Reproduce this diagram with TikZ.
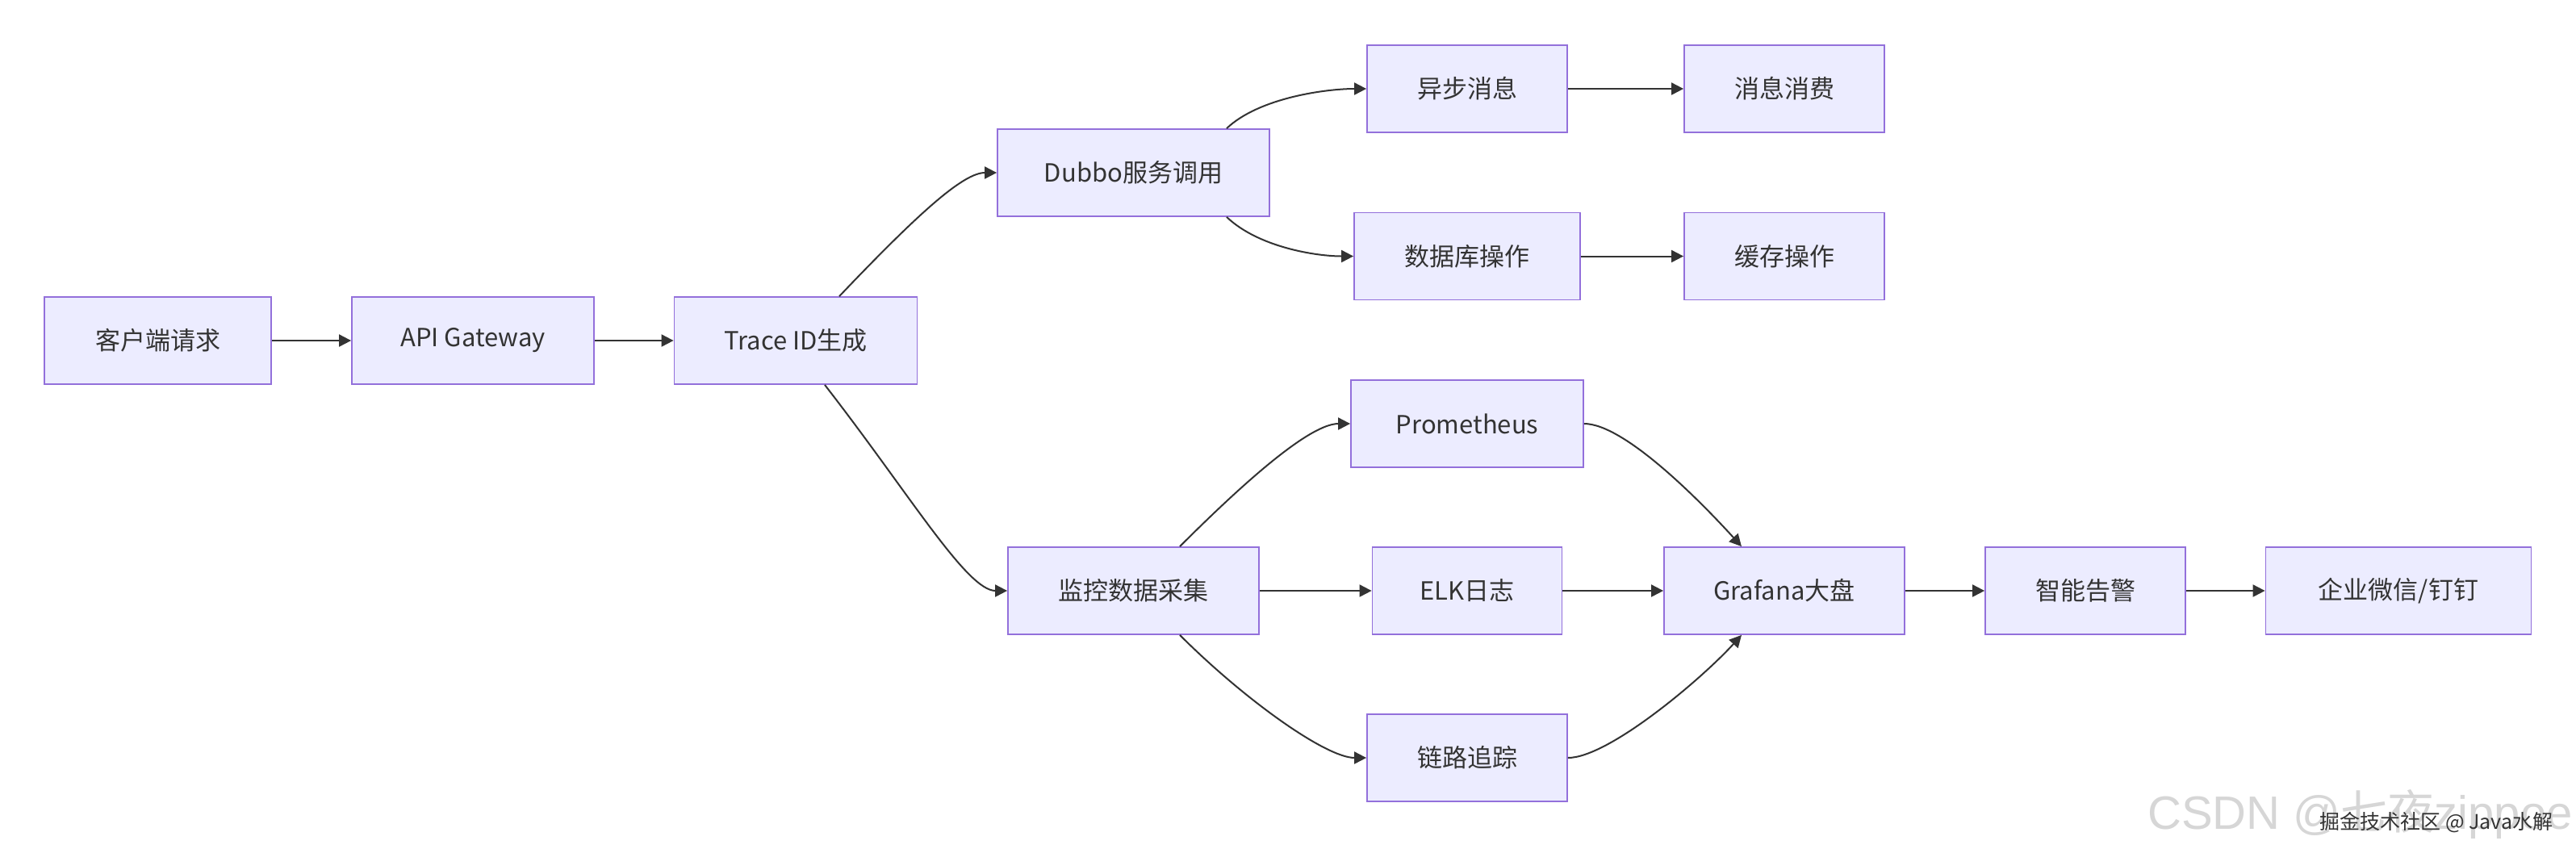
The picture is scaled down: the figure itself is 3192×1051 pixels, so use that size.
\documentclass[tikz,border=0pt]{standalone}
\usepackage{fontspec}
\setmainfont{Noto Sans CJK SC}
\newfontfamily\wmlatin{Liberation Sans}
\usetikzlibrary{arrows.meta,calc}
\definecolor{boxfill}{HTML}{ECECFF}
\definecolor{boxline}{HTML}{9370DB}
\definecolor{ink}{HTML}{333333}
\definecolor{wmgray}{HTML}{D6D6D6}
\begin{document}
\begin{tikzpicture}[x=0.5pt,y=-0.5pt,
  box/.style={draw=boxline, fill=boxfill, line width=0.9pt, minimum height=54pt,
    inner sep=0pt, text=ink, font=\fontsize{15.5pt}{18pt}\selectfont},
  link/.style={draw=ink, line width=1pt, -{Triangle[length=7.5pt,width=7.5pt]}}]
\fill[white] (0,0) rectangle (3192,1051);
\useasboundingbox (0,0) rectangle (3192,1051);

% nodes
\node[box, minimum width=140.5pt] (client)  at (195.5,422) {客户端请求};
\node[box, minimum width=150pt]   (api)     at (586,422)   {API Gateway};
\node[box, minimum width=150.5pt] (trace)   at (986,422)   {Trace ID生成};
\node[box, minimum width=168.5pt] (dubbo)   at (1404.5,214) {Dubbo服务调用};
\node[box, minimum width=124pt]   (async)   at (1818,110)  {异步消息};
\node[box, minimum width=124pt]   (consume) at (2211,110)  {消息消费};
\node[box, minimum width=140pt]   (db)      at (1818,317.5) {数据库操作};
\node[box, minimum width=124pt]   (cache)   at (2211,317.5) {缓存操作};
\node[box, minimum width=144pt]   (prom)    at (1818,525)  {Prometheus};
\node[box, minimum width=155.5pt] (monitor) at (1404.5,732) {监控数据采集};
\node[box, minimum width=117.5pt] (elk)     at (1818,732)  {ELK日志};
\node[box, minimum width=149pt]   (grafana) at (2211,732)  {Grafana大盘};
\node[box, minimum width=124pt]   (tracing) at (1818,939)  {链路追踪};
\node[box, minimum width=124pt]   (alert)   at (2584,732)  {智能告警};
\node[box, minimum width=164.5pt] (notify)  at (2972,732)  {企业微信/钉钉};

% straight connectors
\draw[link] (client.east) -- (api.west);
\draw[link] (api.east) -- (trace.west);
\draw[link] (async.east) -- (consume.west);
\draw[link] (db.east) -- (cache.west);
\draw[link] (monitor.east) -- (elk.west);
\draw[link] (elk.east) -- (grafana.west);
\draw[link] (grafana.east) -- (alert.west);
\draw[link] (alert.east) -- (notify.west);

% curved connectors
\draw[link] ($(trace.north)+(54,0)$) .. controls ($(trace.north)+(154,-105)$) and ($(dubbo.west)+(-41,0)$) .. (dubbo.west);
\draw[link] ($(trace.south)+(36,0)$) .. controls ($(trace.south)+(141,135)$) and ($(monitor.west)+(-50,0)$) .. (monitor.west);
\draw[link] ($(dubbo.north)+(115.5,0)$) .. controls ($(dubbo.north)+(155.5,-38)$) and ($(async.west)+(-50,0)$) .. (async.west);
\draw[link] ($(dubbo.south)+(115.5,0)$) .. controls ($(dubbo.south)+(155.5,38)$) and ($(db.west)+(-45,0)$) .. (db.west);
\draw[link] ($(monitor.north)+(57.5,0)$) .. controls ($(monitor.north)+(137.5,-80)$) and ($(prom.west)+(-50,0)$) .. (prom.west);
\draw[link] ($(monitor.south)+(57.5,0)$) .. controls ($(monitor.south)+(137.5,80)$) and ($(tracing.west)+(-50,0)$) .. (tracing.west);
\draw[link] (prom.east) .. controls ($(prom.east)+(50,0)$) and ($(grafana.north)+(-103,-55)$) .. ($(grafana.north)+(-53,0)$);
\draw[link] (tracing.east) .. controls ($(tracing.east)+(50,0)$) and ($(grafana.south)+(-103,55)$) .. ($(grafana.south)+(-53,0)$);

% watermarks
\node[anchor=base east, inner sep=0pt, text=wmgray, font=\fontsize{29pt}{29pt}\selectfont] (wmA) at (3188,1027) {{\wmlatin CSDN @}七夜{\wmlatin zippoe}};
\node[anchor=base west, inner sep=0pt, text=ink, font=\fontsize{12.5pt}{12.5pt}\selectfont] (wmB) at (2874,1027) {掘金技术社区 @ Java水解};
\end{tikzpicture}
\end{document}
